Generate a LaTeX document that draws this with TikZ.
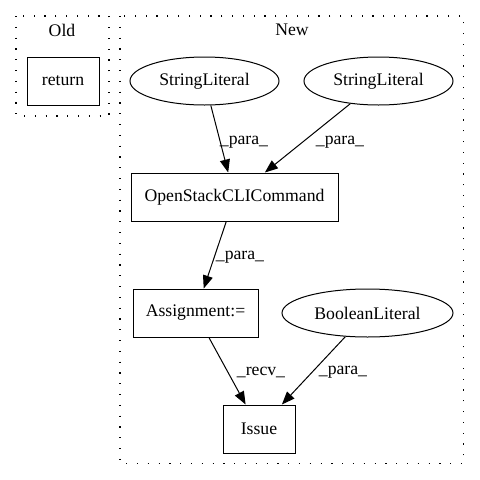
\documentclass[tikz,border=0pt]{standalone}
\usepackage{fontspec}
\setmainfont{Liberation Serif}
\usetikzlibrary{arrows.meta,shapes.geometric}

\tikzset{
  box/.style={draw,rectangle,minimum height=48pt,inner sep=0pt},
  lit/.style={draw,ellipse,minimum width=149pt,minimum height=48pt,inner sep=0pt},
  edge/.style={-{Triangle[length=13pt,width=10pt]}},
  lbl/.style={inner sep=0pt},
  cluster/.style={line width=1.2pt,dash pattern=on 1.2pt off 9.6pt}
}

\begin{document}
\begin{tikzpicture}[x=1pt,y=-1pt,line width=1pt,font=\fontsize{17.7}{20}\selectfont]
\useasboundingbox (0,0) rectangle (480,480);

% clusters
\draw[cluster] (16,16) rectangle (109,116);
\node (oldname) at (62,30) {Old};
\draw[cluster] (120,16) rectangle (463.5,463.5);
\node (newname) at (292,30) {New};

\node[box,minimum width=72pt] (ret) at (63,81) {return};

\node[lit] (sl1) at (204.5,81) {StringLiteral};
\node[lit] (sl2) at (378.5,81) {StringLiteral};
\node[box,minimum width=207pt] (osc) at (234.5,197) {OpenStackCLICommand};
\node[box,minimum width=125pt] (asg) at (195.5,313) {Assignment:=};
\node[lit,minimum width=171pt] (bool) at (367.5,313) {BooleanLiteral};
\node[box,minimum width=72pt] (issue) at (259,429) {Issue};

\draw[edge] (sl1) -- (osc);
\node[lbl] at (244,142) {\_para\_};
\draw[edge] (sl2) -- (osc);
\node[lbl] at (340,142) {\_para\_};
\draw[edge] (osc) -- (asg);
\node[lbl] at (240,257) {\_para\_};
\draw[edge] (asg) -- (issue);
\node[lbl] at (261,372) {\_recv\_};
\draw[edge] (bool) -- (issue);
\node[lbl] at (343,372) {\_para\_};
\end{tikzpicture}
\end{document}
